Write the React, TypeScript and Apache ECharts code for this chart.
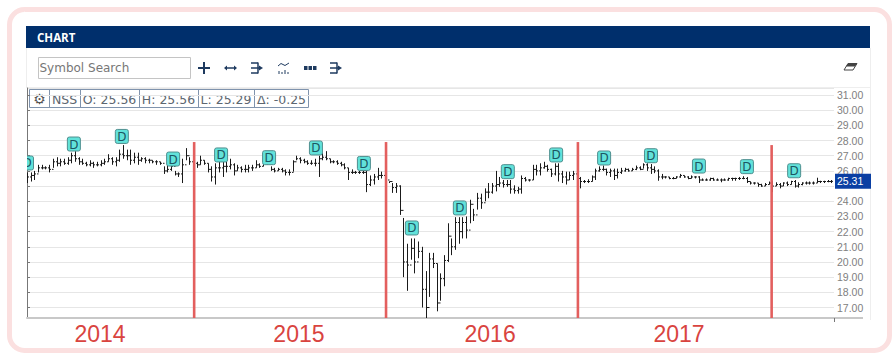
import React, { useEffect, useRef } from "react";
import * as echarts from "echarts";

const highs = [
  25.9,25.9,26.0,26.4,26.4,26.3,26.4,26.8,26.9,26.8,
  26.8,26.9,27.2,27.3,26.9,26.8,26.6,26.7,26.6,26.6,
  26.7,26.8,27.1,26.9,26.9,27.4,27.7,27.4,27.4,27.2,
  27.2,26.9,26.9,26.8,26.7,26.7,26.6,26.3,26.4,26.5,
  26.0,25.9,26.8,27.5,26.9,26.8,26.6,27.0,26.7,26.5,
  26.3,26.5,26.6,26.6,26.6,26.8,26.5,26.4,26.3,26.4,
  26.4,26.4,26.7,26.5,26.7,26.9,26.3,26.2,26.2,26.2,
  26.1,26.1,26.7,27.0,26.9,26.8,26.7,26.7,26.8,27.0,
  27.2,27.3,26.8,26.7,26.7,26.6,26.5,26.2,26.1,26.0,
  26.0,26.0,26.0,25.7,25.8,26.2,25.95,25.9,25.3,25.2,
  25.2,25.05,22.9,21.2,21.55,21.55,21.35,21.0,19.4,20.6,
  20.6,19.9,19.25,20.45,22.55,21.55,22.95,22.95,22.95,23.0,
  24.1,23.5,24.55,24.5,24.85,25.2,25.2,26.0,25.6,25.4,
  25.4,25.4,25.05,24.95,25.7,25.6,25.45,26.4,26.4,26.5,
  26.6,26.4,26.15,26.5,26.5,26.0,25.95,25.95,26.0,25.85,
  25.6,25.4,25.45,25.7,26.15,26.3,26.35,26.15,26.15,26.15,
  26.15,26.2,26.2,26.15,26.2,26.35,26.3,26.5,26.5,26.45,
  26.3,26.1,25.8,25.65,25.6,25.6,25.65,25.8,25.7,25.65,
  25.7,25.65,25.65,25.5,25.5,25.55,25.55,25.5,25.5,25.5,
  25.55,25.55,25.55,25.6,25.65,25.6,25.3,25.25,25.2,25.15,
  25.2,25.3,25.35,25.25,25.2,25.25,25.3,25.35,25.4,25.25,
  25.25,25.3,25.3,25.3,25.55,25.35,25.35,25.4,25.4,
];
const lows = [
  25.2,25.3,25.4,25.9,26.1,26.1,25.9,26.2,26.3,26.3,
  26.4,26.4,26.5,26.6,26.4,26.4,26.3,26.3,26.2,26.3,
  26.3,26.4,26.6,26.4,26.3,26.6,26.8,26.7,26.4,26.5,
  26.4,26.6,26.5,26.5,26.5,26.4,26.4,25.8,25.9,26.0,
  25.7,25.6,25.2,26.7,26.4,26.3,26.2,26.4,26.4,25.9,
  25.3,25.1,25.9,25.6,25.9,26.1,25.7,26.0,25.9,25.9,
  25.9,26.0,26.2,26.2,26.3,26.4,26.0,25.9,26.0,25.9,
  25.7,25.7,25.95,26.7,26.5,26.5,26.4,26.4,26.3,25.6,
  26.7,26.7,26.5,26.5,26.4,26.3,26.1,25.4,25.8,25.8,
  25.8,25.8,24.6,25.0,25.1,25.4,25.5,25.2,25.2,24.55,
  24.55,23.1,19.0,18.1,20.15,19.25,20.25,17.0,16.3,17.7,
  19.6,16.75,17.45,18.4,20.0,20.45,20.8,21.2,21.55,21.55,
  22.55,22.7,23.45,23.5,24.0,24.2,24.5,24.65,24.95,24.9,
  24.95,24.5,24.5,24.5,24.5,25.3,25.3,25.4,25.7,25.7,
  26.15,25.95,25.6,25.7,25.3,25.2,25.1,25.4,25.4,25.35,
  24.85,25.2,25.2,25.3,25.4,25.95,26.0,25.7,25.6,25.4,
  25.5,25.8,25.95,25.95,26.0,26.05,26.05,26.15,26.0,25.8,
  25.85,25.35,25.45,25.5,25.45,25.45,25.5,25.55,25.55,25.45,
  25.5,25.5,25.2,25.35,25.35,25.35,25.35,25.35,25.25,25.35,
  25.35,25.35,25.35,25.4,25.45,25.2,25.1,25.1,24.95,24.95,
  25.0,25.1,24.6,25.0,24.85,25.0,25.0,25.1,24.9,24.9,
  25.05,25.1,25.1,25.1,25.2,25.2,25.2,25.25,25.2,
];
const closes = [
  25.6,25.7,25.8,26.2,26.2,26.2,26.1,26.6,26.5,26.6,
  26.5,26.7,27.0,26.8,26.6,26.5,26.4,26.5,26.4,26.4,
  26.5,26.6,26.8,26.6,26.7,27.1,27.0,27.0,26.7,26.9,
  26.7,26.8,26.7,26.7,26.6,26.6,26.5,26.0,26.1,26.3,
  25.8,25.8,26.4,27.0,26.6,26.5,26.4,26.7,26.5,26.1,
  25.6,26.2,26.2,26.3,26.3,26.4,26.0,26.2,26.1,26.1,
  26.2,26.2,26.4,26.3,26.5,26.6,26.1,26.0,26.1,26.0,
  25.9,25.9,26.6,26.8,26.7,26.6,26.5,26.5,26.5,26.8,
  26.9,26.8,26.6,26.6,26.5,26.4,26.2,25.9,25.9,25.9,
  25.9,25.9,25.1,25.4,25.6,25.7,25.7,25.4,25.3,24.9,
  25.0,23.4,20.0,19.8,20.9,20.0,20.7,18.2,17.0,20.2,
  19.9,17.3,18.9,20.1,21.7,21.0,22.6,22.0,22.6,22.1,
  23.8,23.1,24.2,23.9,24.6,24.6,25.0,25.1,25.2,25.1,
  25.1,24.8,24.7,24.8,25.5,25.4,25.4,26.1,26.0,26.2,
  26.3,26.1,25.8,26.3,25.8,25.6,25.4,25.7,25.8,25.5,
  25.3,25.3,25.3,25.6,26.0,26.1,26.1,25.9,26.0,25.7,
  25.9,26.0,26.1,26.0,26.1,26.2,26.1,26.4,26.2,26.1,
  26.0,25.6,25.6,25.6,25.5,25.5,25.6,25.7,25.6,25.5,
  25.6,25.6,25.4,25.4,25.4,25.5,25.4,25.4,25.4,25.4,
  25.5,25.5,25.5,25.5,25.5,25.3,25.2,25.2,25.1,25.0,
  25.1,25.2,25.0,25.1,25.0,25.2,25.1,25.3,25.0,25.1,
  25.2,25.2,25.2,25.2,25.3,25.3,25.3,25.3,25.31,
];

const dividendWeeks = [0,12.7,25.7,39.6,52.6,65.6,78.3,91.3,104.3,117.3,130.3,143.4,156.4,169.1,182.1,195.1,207.9];
const dividendPrices = [26.52,27.77,28.27,26.78,27.05,26.87,27.51,26.49,22.24,23.56,25.95,27.05,26.85,27.0,26.32,26.28,26.01];

const yearBreakWeeks = [45.3, 97.3, 149.3, 201.8];
const yearBreakTops = [27.9, 27.9, 27.9, 27.7];

const yearLabels = ["2014", "2015", "2016", "2017"];
const yearLabelWeeks = [19.8, 73.7, 125.5, 176.7];

const lastPrice = 25.31;
const hiddenAxisPrice = 25;
const quoteCells = ["NSS", "O: 25.56", "H: 25.56", "L: 25.29", "Δ: -0.25"];
const quoteEdges = [49, 80, 139, 198, 254, 309];

const NAVY = "#002f6c";
const ICON = "#1e3a5f";

function toolbarIcons(): any[] {
  const stroke = { stroke: ICON, lineWidth: 2 };
  const thin = { stroke: ICON, lineWidth: 1.5 };
  const ln = (x1: number, y1: number, x2: number, y2: number, style: any = stroke) => ({
    type: "line", shape: { x1, y1, x2, y2 }, style,
  });
  const tri = (pts: number[][]) => ({ type: "polygon", shape: { points: pts }, style: { fill: ICON } });
  const step = (ox: number) => [
    ln(ox, 63, ox + 7, 63, thin), ln(ox + 7, 62.5, ox + 7, 73.5, thin), ln(ox, 73, ox + 7, 73, thin),
    ln(ox, 68, ox + 8, 68, thin), tri([[ox + 8, 65.5], [ox + 12, 68], [ox + 8, 70.5]]),
  ];
  const fine = { stroke: ICON, lineWidth: 1 };
  return [
    ln(204, 62, 204, 74), ln(198, 68, 210, 68),
    ln(226, 68, 235, 68, thin), tri([[224, 68], [227, 65.5], [227, 70.5]]), tri([[237, 68], [234, 65.5], [234, 70.5]]),
    ...step(251),
    { type: "polyline", shape: { points: [[278, 66], [281, 63.5], [285, 65.5], [289, 63]] }, style: { ...fine, fill: "none" } },
    ln(279, 74, 279, 71, fine), ln(282, 74, 282, 72, fine), ln(285, 74, 285, 70, fine), ln(288, 74, 288, 72, fine),
    { type: "rect", shape: { x: 304, y: 66, width: 3.5, height: 4 }, style: { fill: ICON } },
    { type: "rect", shape: { x: 308.5, y: 66, width: 3.5, height: 4 }, style: { fill: ICON } },
    { type: "rect", shape: { x: 313, y: 66, width: 3.5, height: 4 }, style: { fill: ICON } },
    ...step(330),
    { type: "polygon", shape: { points: [[848, 63.5], [857, 63.5], [853, 70], [844, 70]] }, style: { fill: "#fff", stroke: "#444", lineWidth: 1 } },
    { type: "polygon", shape: { points: [[848, 63.5], [857, 63.5], [855, 66.5], [846, 66.5]] }, style: { fill: "#444" } },
  ];
}

function chrome(): any[] {
  const cells: any[] = [];
  cells.push({ type: "rect", shape: { x: 29.5, y: 89.5, width: 279, height: 18 }, style: { fill: "#fff", stroke: "#7f93ad", lineWidth: 1 } });
  quoteEdges.slice(0, -1).forEach((x) => {
    cells.push({ type: "line", shape: { x1: x + 0.5, y1: 90, x2: x + 0.5, y2: 107 }, style: { stroke: "#7f93ad", lineWidth: 1 } });
  });
  quoteCells.forEach((t, i) => {
    cells.push({
      type: "text", x: (quoteEdges[i] + quoteEdges[i + 1]) / 2, y: 99,
      style: { text: t, fill: "#5c6670", font: "12.5px 'DejaVu Sans'", textAlign: "center", textVerticalAlign: "middle" },
    });
  });
  cells.push({
    type: "text", x: 39.5, y: 98.5,
    style: { text: "⚙", fill: "#555", font: "14px 'DejaVu Sans'", textAlign: "center", textVerticalAlign: "middle" },
  });
  return [
    { type: "rect", z: -10, shape: { x: 9.5, y: 9.5, width: 880, height: 341, r: 15 }, style: { fill: "#fff", stroke: "#fbe0e0", lineWidth: 5 } },
    { type: "rect", z: -9, shape: { x: 26, y: 26, width: 844, height: 22 }, style: { fill: NAVY } },
    { type: "line", z: -9, shape: { x1: 26.5, y1: 48, x2: 26.5, y2: 88 }, style: { stroke: "#eeeeee", lineWidth: 1 } },
    { type: "line", z: -9, shape: { x1: 870.5, y1: 48, x2: 870.5, y2: 320 }, style: { stroke: "#eeeeee", lineWidth: 1 } },
    { type: "line", z: -9, shape: { x1: 26, y1: 87.5, x2: 870, y2: 87.5 }, style: { stroke: "#eeeeee", lineWidth: 1 } },
    { type: "line", z: -9, shape: { x1: 834, y1: 318, x2: 863, y2: 318 }, style: { stroke: "#c8c8c8", lineWidth: 2 } },
    { type: "text", x: 37, y: 37, style: { text: "CHART", fill: "#fff", font: "bold 11.5px 'Open Sans'", textVerticalAlign: "middle" } },
    { type: "rect", shape: { x: 38.5, y: 57.5, width: 152, height: 21 }, style: { fill: "#fff", stroke: "#c4c4c4", lineWidth: 1 } },
    { type: "text", x: 39.5, y: 68, style: { text: "Symbol Search", fill: "#777", font: "12px 'DejaVu Sans'", textVerticalAlign: "middle" } },
    ...toolbarIcons(),
    ...cells,
  ];
}

const option: any = {
  animation: false,
  backgroundColor: "#fff",
  grid: { left: 27, right: 62, top: 88, height: 230 },
  xAxis: {
    type: "value",
    min: 0,
    max: 218.7,
    splitLine: { show: false },
    axisLine: { lineStyle: { color: "#c8c8c8", width: 2 } },
    axisTick: { show: true, customValues: [218.7], length: 4, lineStyle: { color: "#777" } },
    axisLabel: {
      customValues: yearLabelWeeks,
      margin: 4,
      color: "#d9443f",
      fontFamily: "Liberation Sans",
      fontSize: 23,
      formatter: (v: number) => yearLabels[yearLabelWeeks.indexOf(v)] ?? "",
    },
  },
  yAxis: {
    type: "value",
    position: "right",
    min: 16.31,
    max: 31.46,
    splitNumber: 15,
    axisLine: { show: true, lineStyle: { color: "#777" } },
    axisTick: { show: true, length: 3, lineStyle: { color: "#777" } },
    splitLine: { show: true, lineStyle: { color: "#e6e6e6", width: 1 } },
    axisLabel: {
      showMinLabel: false,
      showMaxLabel: false,
      margin: 3,
      color: "#808080",
      fontFamily: "Liberation Sans",
      fontSize: 10.5,
      formatter: (v: number) => (v === hiddenAxisPrice ? "" : v.toFixed(2)),
    },
  },
  graphic: { elements: chrome() },
  series: [
    {
      name: "NSS",
      type: "custom",
      clip: true,
      data: highs.map((h, i) => [i, h, lows[i], closes[i], closes[i - 1] ?? closes[i]]),
      renderItem: (_p: any, api: any) => {
        const top = api.coord([api.value(0), api.value(1)]);
        const bot = api.coord([api.value(0), api.value(2)]);
        const cl = api.coord([api.value(0), api.value(3)]);
        const op = api.coord([api.value(0), api.value(4)]);
        const x = Math.round(top[0]) + 0.5;
        const style = { stroke: "#1a1a1a", lineWidth: 1 };
        return {
          type: "group",
          children: [
            { type: "line", shape: { x1: x, y1: top[1], x2: x, y2: bot[1] }, style },
            { type: "line", shape: { x1: x - 1.5, y1: op[1], x2: x, y2: op[1] }, style },
            { type: "line", shape: { x1: x, y1: cl[1], x2: x + 1.5, y2: cl[1] }, style },
          ],
        };
      },
      z: 3,
    },
    {
      name: "Year breaks",
      type: "custom",
      clip: true,
      data: yearBreakWeeks.map((w, i) => [w, yearBreakTops[i]]),
      renderItem: (p: any, api: any) => {
        const a = api.coord([api.value(0), api.value(1)]);
        return {
          type: "line",
          shape: { x1: a[0], y1: a[1], x2: a[0], y2: p.coordSys.y + p.coordSys.height },
          style: { stroke: "#e35f5e", lineWidth: 2.6 },
        };
      },
      z: 4,
    },
    {
      name: "Dividends",
      type: "custom",
      clip: true,
      data: dividendWeeks.map((w, i) => [w, dividendPrices[i]]),
      renderItem: (_p: any, api: any) => {
        const c = api.coord([api.value(0), api.value(1)]);
        return {
          type: "group",
          x: c[0],
          y: c[1],
          children: [
            { type: "rect", shape: { x: -6.5, y: -7, width: 13, height: 14, r: 2 }, style: { fill: "#62e2da", stroke: "#4f8f8f", lineWidth: 1 } },
            { type: "text", x: 0, y: 0.5, style: { text: "D", fill: "#1c5662", font: "12px 'DejaVu Sans'", textAlign: "center", textVerticalAlign: "middle" } },
          ],
        };
      },
      z: 5,
    },
    {
      name: "Last price",
      type: "custom",
      clip: false,
      data: [[218.7, lastPrice]],
      renderItem: (_p: any, api: any) => {
        const c = api.coord([api.value(0), api.value(1)]);
        return {
          type: "group",
          x: c[0],
          y: c[1],
          children: [
            { type: "rect", shape: { x: 1, y: -7.5, width: 36, height: 15 }, style: { fill: "#0a3fa3" } },
            { type: "text", x: 3, y: 0, style: { text: lastPrice.toFixed(2), fill: "#fff", font: "10.5px 'Liberation Sans'", textVerticalAlign: "middle" } },
          ],
        };
      },
      z: 6,
    },
  ],
};

export default function App() {
  const ref = useRef<HTMLDivElement>(null);
  useEffect(() => {
    const chart = echarts.init(ref.current!, undefined, { renderer: "svg" });
    chart.setOption(option);
    return () => chart.dispose();
  }, []);
  return <div ref={ref} style={{ position: "fixed", left: 0, top: 0, width: 896, height: 358 }} />;
}
